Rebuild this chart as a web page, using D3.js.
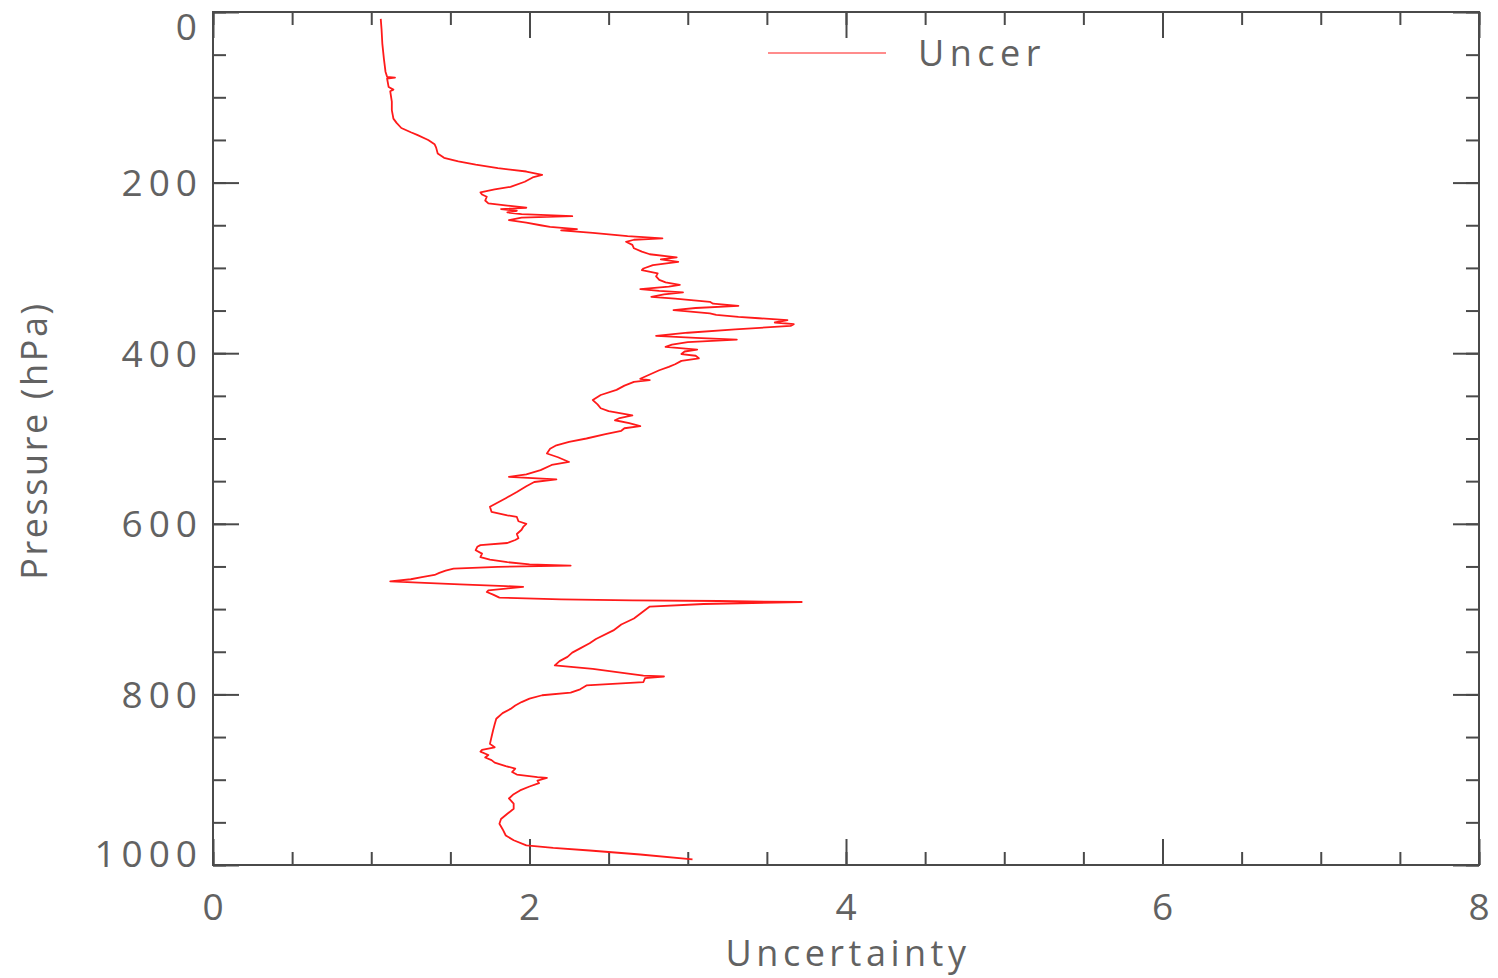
<!DOCTYPE html>
<html>
<head>
<meta charset="utf-8">
<script src="https://cdn.jsdelivr.net/npm/d3@7"></script>
<style>
  html, body { margin: 0; padding: 0; background: #fff; }
  svg text { font-family: "Open Sans", "DejaVu Sans", sans-serif; fill: #626262; }
</style>
</head>
<body>
<svg id="chart" width="1498" height="978"></svg>
<script>
// Uncertainty profile against pressure (hPa), top of atmosphere to surface
const pressure = [
  8, 20, 37, 55, 70, 76, 77, 78, 88, 91, 93, 105, 115, 125, 130, 136, 141, 144, 150, 155,
  159, 166, 171, 175, 179, 183, 187, 191, 194, 199, 205, 208, 211.5, 214, 216.6, 221, 224.4, 227, 229.5, 231,
  233, 235, 237, 239.3, 241, 244, 247, 250, 252, 254.5, 256, 259, 262.8, 265.5, 267, 269.4, 273, 277, 281, 284,
  287.7, 290, 293, 296.8, 300.7, 302.6, 306.5, 310, 314, 317, 320, 322, 325, 327, 328.8, 331, 334, 336, 339.8, 342,
  344.5, 347, 349.5, 351, 353.4, 355, 357.4, 359, 361.3, 364, 366, 368, 372, 376, 379.7, 382, 384, 387, 390, 392.6,
  395.7, 398, 401, 403, 406, 409, 413, 416, 420, 425, 430, 431.6, 433.6, 438, 443, 449, 455, 460, 464.5, 468,
  473, 476, 478.6, 482, 485.6, 488, 491, 495, 500, 504, 508, 512, 517.6, 522, 527.5, 531, 537, 542, 545, 548,
  551, 556, 562.7, 570, 575, 580, 586, 590, 592, 597, 600, 603.7, 607, 612, 617, 619, 622.5, 625, 627, 631,
  635, 639, 642, 645, 647.5, 649, 650.5, 652.6, 655, 657.6, 660, 662.4, 665, 667.5, 669, 671, 673, 674, 676, 678,
  680, 683, 686.6, 688.5, 689.7, 690.5, 691.7, 694, 697, 704, 711, 718, 725, 735, 740, 746, 751, 756, 761, 766,
  770, 775, 778, 779, 781, 785.5, 789.5, 794, 798, 801, 805, 809, 813, 817, 822, 828.5, 835, 842, 850, 858,
  862, 865, 867, 871, 874, 877, 880, 884, 887, 891, 894, 897, 898, 901, 904, 908, 912.6, 917, 922, 928,
  934, 940, 946, 951.7, 958, 965.4, 971, 977, 980, 983, 987.7, 993.5
];
const uncertainty = [
  1.06, 1.065, 1.07, 1.08, 1.09, 1.10, 1.15, 1.10, 1.11, 1.14, 1.12, 1.13, 1.13, 1.14, 1.16, 1.19, 1.25, 1.29, 1.36, 1.40,
  1.41, 1.42, 1.46, 1.55, 1.66, 1.80, 1.98, 2.08, 2.02, 1.97, 1.88, 1.78, 1.69, 1.70, 1.73, 1.72, 1.74, 1.86, 1.98, 1.82,
  1.92, 1.86, 1.95, 2.27, 1.95, 1.87, 1.98, 2.07, 2.13, 2.30, 2.20, 2.40, 2.62, 2.84, 2.66, 2.61, 2.65, 2.66, 2.71, 2.76,
  2.93, 2.83, 2.94, 2.78, 2.72, 2.71, 2.81, 2.80, 2.82, 2.86, 2.95, 2.88, 2.70, 2.82, 2.97, 2.85, 2.77, 2.92, 3.14, 3.16,
  3.32, 3.05, 2.91, 3.00, 3.14, 3.18, 3.32, 3.45, 3.63, 3.55, 3.67, 3.65, 3.30, 3.00, 2.80, 3.05, 3.31, 3.00, 2.90, 2.86,
  3.06, 2.98, 2.96, 3.05, 3.07, 2.96, 2.92, 2.88, 2.82, 2.76, 2.70, 2.76, 2.66, 2.60, 2.55, 2.45, 2.40, 2.43, 2.45, 2.50,
  2.65, 2.57, 2.54, 2.63, 2.70, 2.60, 2.58, 2.48, 2.36, 2.25, 2.17, 2.13, 2.11, 2.18, 2.25, 2.14, 2.07, 1.98, 1.87, 2.17,
  2.03, 1.98, 1.92, 1.85, 1.80, 1.75, 1.76, 1.86, 1.92, 1.93, 1.98, 1.96, 1.95, 1.92, 1.93, 1.91, 1.86, 1.69, 1.67, 1.66,
  1.70, 1.69, 1.75, 1.86, 2.00, 2.26, 1.80, 1.52, 1.47, 1.43, 1.40, 1.32, 1.25, 1.12, 1.30, 1.56, 1.85, 1.96, 1.85, 1.74,
  1.73, 1.77, 1.81, 2.20, 2.65, 3.20, 3.72, 3.10, 2.76, 2.71, 2.66, 2.58, 2.53, 2.42, 2.38, 2.32, 2.27, 2.24, 2.19, 2.16,
  2.40, 2.60, 2.72, 2.85, 2.73, 2.72, 2.36, 2.32, 2.26, 2.08, 2.00, 1.95, 1.91, 1.88, 1.83, 1.79, 1.78, 1.77, 1.76, 1.75,
  1.78, 1.70, 1.69, 1.74, 1.72, 1.76, 1.78, 1.85, 1.91, 1.89, 1.92, 2.05, 2.11, 2.05, 2.06, 2.00, 1.94, 1.90, 1.87, 1.90,
  1.90, 1.86, 1.82, 1.81, 1.83, 1.85, 1.90, 1.98, 2.15, 2.38, 2.70, 3.03
];

// Axis ticks and labels
const xMajorTicks = [0, 2, 4, 6, 8];
const xMinorTicks = d3.range(0, 8.01, 0.5);
const yMajorTicks = [0, 200, 400, 600, 800, 1000];
const yMinorTicks = d3.range(0, 1001, 50);
const xTitle = "Uncertainty";
const yTitle = "Pressure (hPa)";
const seriesName = "Uncer";

const svg = d3.select("#chart");
const plot = { left: 213, right: 1479, top: 12, bottom: 865 };

const x = d3.scaleLinear().domain([0, 8]).range([plot.left, plot.right]);
const y = d3.scaleLinear().domain([0, 1000]).range([plot.top, plot.bottom]);

const axisColor = "#4a4a4a";
const majorLen = 26, minorLen = 13;

// Inward ticks on all four sides
function tickAxis(gen, ticks, len, transform) {
  const g = svg.append("g").attr("transform", transform)
    .call(gen.tickValues(ticks).tickSize(-len).tickFormat(""));
  g.select(".domain").remove();
  g.selectAll(".tick line").attr("stroke", axisColor).attr("stroke-width", 2);
  return g;
}
tickAxis(d3.axisBottom(x), xMinorTicks, minorLen, `translate(0,${plot.bottom})`);
tickAxis(d3.axisBottom(x), xMajorTicks, majorLen, `translate(0,${plot.bottom})`);
tickAxis(d3.axisTop(x), xMinorTicks, minorLen, `translate(0,${plot.top})`);
tickAxis(d3.axisTop(x), xMajorTicks, majorLen, `translate(0,${plot.top})`);
tickAxis(d3.axisLeft(y), yMinorTicks, minorLen, `translate(${plot.left},0)`);
tickAxis(d3.axisLeft(y), yMajorTicks, majorLen, `translate(${plot.left},0)`);
tickAxis(d3.axisRight(y), yMinorTicks, minorLen, `translate(${plot.right},0)`);
tickAxis(d3.axisRight(y), yMajorTicks, majorLen, `translate(${plot.right},0)`);

// Frame
svg.append("rect")
  .attr("x", plot.left).attr("y", plot.top)
  .attr("width", plot.right - plot.left).attr("height", plot.bottom - plot.top)
  .attr("fill", "none").attr("stroke", axisColor).attr("stroke-width", 2);

// Tick labels
const labelFont = 37;
svg.append("g").selectAll("text").data(xMajorTicks).join("text")
  .attr("x", d => x(d)).attr("y", plot.bottom + 55)
  .attr("text-anchor", "middle")
  .attr("font-size", labelFont)
  .text(d => d);

svg.append("g").selectAll("text").data(yMajorTicks).join("text")
  .attr("x", plot.left - 10)
  .attr("y", d => {
    let yy = y(d);
    if (d === yMajorTicks[0]) yy += 15;
    if (d === yMajorTicks[yMajorTicks.length - 1]) yy -= 11;
    return yy;
  })
  .attr("dy", "0.36em")
  .attr("text-anchor", "end")
  .attr("font-size", labelFont).attr("letter-spacing", 6)
  .text(d => d);

// Axis titles
svg.append("text")
  .attr("x", (plot.left + plot.right) / 2 + 2).attr("y", 966)
  .attr("text-anchor", "middle")
  .attr("font-size", 36).attr("letter-spacing", 4.5)
  .text(xTitle);

svg.append("text")
  .attr("transform", `translate(47,${(plot.top + plot.bottom) / 2 + 2}) rotate(-90)`)
  .attr("text-anchor", "middle")
  .attr("font-size", 36).attr("letter-spacing", 2.6)
  .text(yTitle);

// Profile line
const points = pressure.map((p, i) => [uncertainty[i], p]);
svg.append("path")
  .datum(points)
  .attr("fill", "none")
  .attr("stroke", "#ff1a1a")
  .attr("stroke-width", 1.8)
  .attr("stroke-linejoin", "round")
  .attr("d", d3.line().x(d => x(d[0])).y(d => y(d[1])));

// Legend
svg.append("line")
  .attr("x1", 768).attr("x2", 886).attr("y1", 53).attr("y2", 53)
  .attr("stroke", "#ff8c8c").attr("stroke-width", 2.2);
svg.append("text")
  .attr("x", 918).attr("y", 66)
  .attr("font-size", 36).attr("letter-spacing", 5.5)
  .text(seriesName);
</script>
</body>
</html>
